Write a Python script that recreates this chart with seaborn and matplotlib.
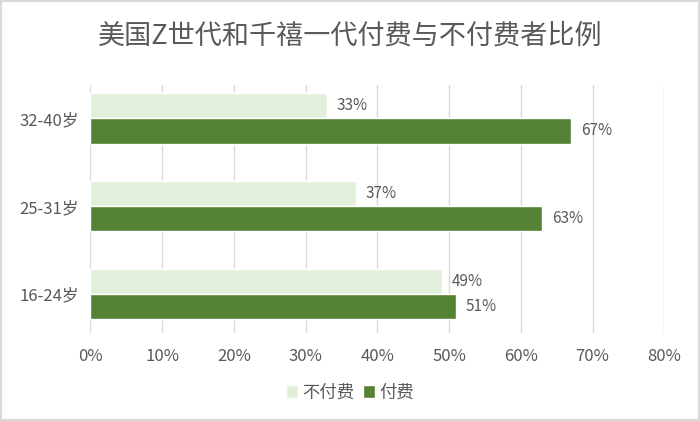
import pandas as pd
import seaborn as sns
import matplotlib.pyplot as plt
from matplotlib.ticker import PercentFormatter
from matplotlib.patches import Rectangle

# Data
age_groups = ["32-40岁", "25-31岁", "16-24岁"]
unpaid = [33, 37, 49]
paid = [67, 63, 51]
series_names = ["不付费", "付费"]

df = pd.DataFrame({
    "age": age_groups * 2,
    "share": unpaid + paid,
    "status": [series_names[0]] * 3 + [series_names[1]] * 3,
})

sns.set_theme(style="white")
plt.rcParams['font.family'] = ['Noto Sans CJK SC', 'DejaVu Sans']

text_color = "#595959"
colors = {"不付费": "#E2EFDA", "付费": "#548235"}

fig = plt.figure(figsize=(7, 4.21), dpi=100)
ax = fig.add_axes([0.129, 0.209, 0.82, 0.589])

sns.barplot(data=df, x="share", y="age", hue="status", order=age_groups,
            hue_order=series_names, palette=colors, width=0.57,
            orient="h", ax=ax, saturation=1)

for container in ax.containers:
    ax.bar_label(container, labels=[f"{v:.0f}%" for v in container.datavalues],
                 padding=7, color=text_color, fontsize=11)

ax.set_xlim(0, 80)
ax.set_ylim(2.44, -0.38)
ax.set_xticks(range(0, 81, 10))
ax.xaxis.set_major_formatter(PercentFormatter(decimals=0))
ax.grid(axis="x", color="#D9D9D9", linewidth=1)
ax.set_axisbelow(True)
for s in ax.spines.values():
    s.set_visible(False)
ax.set_xlabel("")
ax.set_ylabel("")
ax.tick_params(axis="both", length=0, labelcolor=text_color, labelsize=12)
ax.tick_params(axis="x", pad=11)
ax.tick_params(axis="y", pad=8)

handles, labels = ax.get_legend_handles_labels()
ax.legend(handles, labels, loc="center", bbox_to_anchor=(0.5, 0.068),
          bbox_transform=fig.transFigure, ncol=2, frameon=False,
          handlelength=0.7, handleheight=0.8, handletextpad=0.25,
          columnspacing=0.5, labelcolor=text_color, fontsize=12.5)

fig.text(0.5, 0.915, "美国Z世代和千禧一代付费与不付费者比例", ha="center", va="center",
         fontsize=19.5, color=text_color)

fig.patches.append(Rectangle((0.002, 0.003), 0.996, 0.994, transform=fig.transFigure,
                             fill=False, edgecolor="#D9D9D9", linewidth=1.5))

fig.savefig("out.png", dpi=100)
